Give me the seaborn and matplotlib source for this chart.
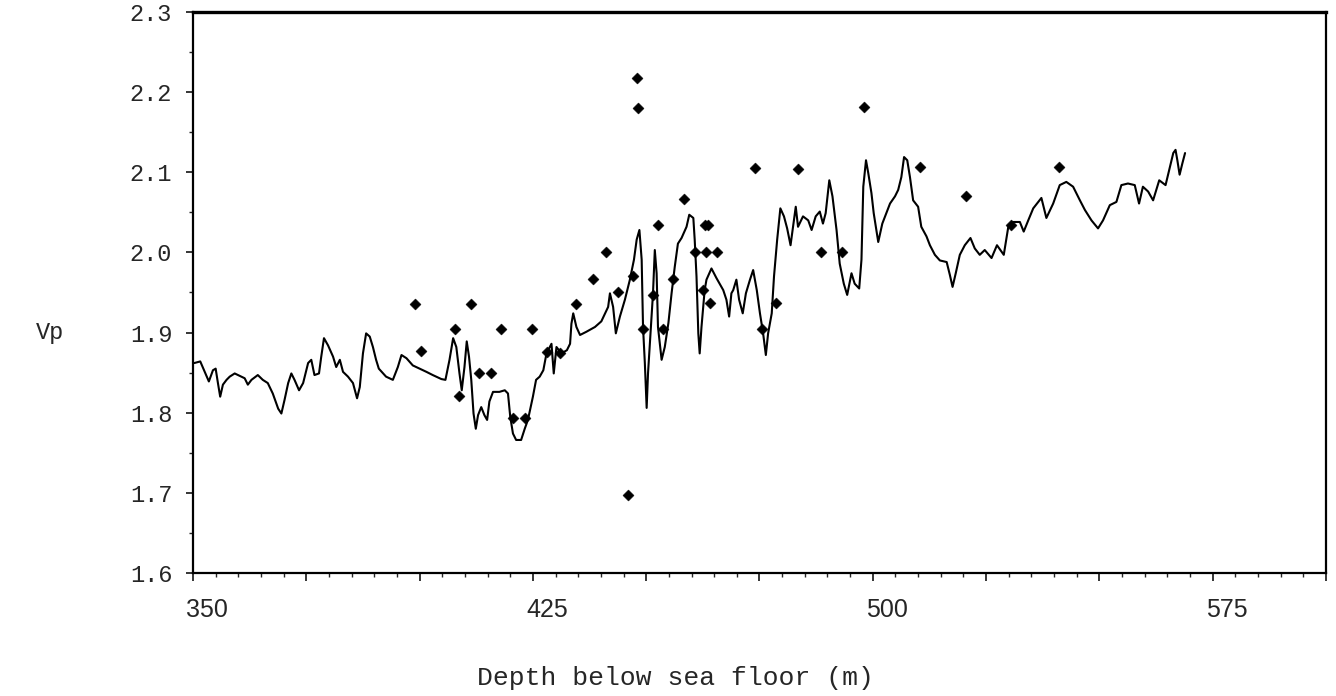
import numpy as np
import pandas as pd
import matplotlib
matplotlib.use("Agg")
import matplotlib.pyplot as plt
import matplotlib.transforms as mtransforms
from matplotlib.ticker import FixedLocator, MultipleLocator, FuncFormatter
import seaborn as sns

# Continuous log: depth below sea floor (m) and P-wave velocity (km/s)
log_depth = [
    350.3, 351.6, 352.6, 353.5, 354.4, 355.0, 355.5, 356.0, 356.6, 357.4,
    358.1, 359.2, 361.4, 362.1, 362.9, 364.3, 365.4, 366.5, 367.6, 368.8,
    369.5, 370.2, 371.0, 371.7, 372.4, 373.4, 374.3, 375.4, 376.1, 376.8,
    377.8, 378.3, 378.9, 379.8, 380.9, 381.6, 382.4, 383.1, 384.2, 385.3,
    386.2, 386.8, 387.5, 388.2, 389.0, 389.7, 390.4, 391.0, 392.6, 394.1,
    395.2, 396.0, 397.1, 398.5, 400.0, 401.5, 402.9, 404.8, 405.7, 406.6,
    407.4, 408.1, 408.8, 409.3, 409.9, 410.4, 410.9, 411.4, 411.9, 412.4,
    412.9, 413.6, 414.3, 414.9, 415.4, 416.2, 417.6, 418.8, 419.5, 420.0,
    420.6, 421.3, 422.4, 423.2, 423.9, 425.0, 425.7, 426.5, 427.3, 428.0,
    429.1, 429.6, 430.2, 431.3, 432.5, 433.2, 433.5, 433.9, 434.6, 435.4,
    436.8, 438.7, 440.1, 441.6, 442.0, 442.7, 443.3, 444.2, 445.3, 446.4,
    447.3, 447.9, 448.5, 449.0, 449.3, 449.7, 450.1, 450.4, 450.95, 451.5,
    451.9, 452.3, 452.6, 453.4, 454.1, 454.9, 455.6, 456.3, 457.0, 457.8,
    458.9, 459.5, 460.4, 460.7, 461.1, 461.5, 461.8, 462.2, 462.9, 463.3,
    464.4, 465.5, 467.0, 467.7, 468.3, 468.8, 469.2, 469.9, 470.5, 471.3,
    472.0, 472.9, 473.6, 474.4, 475.1, 475.8, 476.4, 476.9, 477.7, 478.2,
    478.9, 479.6, 480.4, 481.1, 481.85, 482.4, 483.0, 483.5, 484.6, 485.75,
    486.5, 487.4, 488.3, 489.0, 489.6, 490.4, 491.1, 492.0, 492.7, 493.6,
    494.35, 495.3, 496.0, 497.0, 497.5, 497.9, 498.5, 499.0, 499.7, 500.2,
    501.2, 502.1, 503.8, 504.9, 505.6, 506.3, 506.9, 507.6, 508.2, 508.9,
    510.0, 510.7, 511.85, 512.6, 513.7, 514.8, 516.3, 517.0, 517.6, 518.3,
    519.2, 520.3, 521.55, 522.5, 523.6, 524.7, 526.2, 527.4, 528.9, 529.9,
    531.0, 532.45, 533.3, 534.3, 535.4, 537.2, 538.3, 539.8, 541.25, 542.7,
    544.2, 545.7, 546.8, 548.25, 549.7, 550.8, 552.3, 553.75, 554.85, 556.3,
    557.8, 558.75, 559.6, 560.75, 561.85, 563.2, 564.6, 565.4, 566.3, 566.8,
    567.2, 567.7, 568.3, 568.9,
]
log_vp = [
    1.862, 1.864, 1.851, 1.839, 1.853, 1.855, 1.837, 1.820, 1.835, 1.841,
    1.845, 1.849, 1.843, 1.835, 1.841, 1.847, 1.841, 1.837, 1.824, 1.805,
    1.799, 1.816, 1.837, 1.849, 1.841, 1.828, 1.837, 1.862, 1.866, 1.847,
    1.849, 1.870, 1.893, 1.884, 1.870, 1.857, 1.866, 1.851, 1.845, 1.837,
    1.818, 1.832, 1.874, 1.899, 1.895, 1.882, 1.866, 1.855, 1.845, 1.841,
    1.857, 1.872, 1.868, 1.859, 1.855, 1.851, 1.847, 1.842, 1.841, 1.866,
    1.893, 1.882, 1.849, 1.828, 1.857, 1.889, 1.870, 1.841, 1.799, 1.780,
    1.797, 1.807, 1.797, 1.791, 1.814, 1.826, 1.826, 1.828, 1.824, 1.795,
    1.774, 1.766, 1.766, 1.780, 1.791, 1.820, 1.841, 1.845, 1.853, 1.874,
    1.886, 1.849, 1.882, 1.874, 1.878, 1.886, 1.911, 1.924, 1.907, 1.897,
    1.901, 1.907, 1.914, 1.932, 1.949, 1.932, 1.899, 1.920, 1.941, 1.966,
    1.991, 2.016, 2.028, 1.991, 1.907, 1.862, 1.806, 1.849, 1.899, 1.949,
    2.003, 1.974, 1.907, 1.866, 1.882, 1.912, 1.949, 1.982, 2.011, 2.018,
    2.032, 2.047, 2.043, 2.016, 1.970, 1.899, 1.874, 1.907, 1.953, 1.966,
    1.980, 1.968, 1.953, 1.941, 1.920, 1.949, 1.953, 1.966, 1.941, 1.924,
    1.949, 1.966, 1.978, 1.953, 1.924, 1.899, 1.872, 1.899, 1.924, 1.970,
    2.016, 2.055, 2.045, 2.030, 2.009, 2.032, 2.057, 2.032, 2.045, 2.040,
    2.028, 2.045, 2.051, 2.036, 2.049, 2.090, 2.070, 2.028, 1.986, 1.961,
    1.947, 1.974, 1.961, 1.955, 1.991, 2.082, 2.115, 2.099, 2.074, 2.049,
    2.013, 2.036, 2.061, 2.070, 2.078, 2.094, 2.119, 2.115, 2.094, 2.065,
    2.057, 2.032, 2.020, 2.009, 1.997, 1.990, 1.988, 1.972, 1.957, 1.974,
    1.997, 2.009, 2.018, 2.005, 1.997, 2.003, 1.993, 2.009, 1.997, 2.032,
    2.038, 2.038, 2.026, 2.040, 2.055, 2.068, 2.043, 2.061, 2.084, 2.088,
    2.082, 2.065, 2.053, 2.040, 2.030, 2.040, 2.059, 2.063, 2.084, 2.086,
    2.084, 2.061, 2.082, 2.076, 2.065, 2.090, 2.084, 2.103, 2.124, 2.128,
    2.115, 2.097, 2.111, 2.124,
]

# Discrete sample measurements
sample_depth = [
    398.9, 411.3, 400.2, 407.9, 418.0, 424.8, 413.2, 415.8, 408.8, 420.6,
    423.2, 447.9, 448.2, 458.3, 452.6, 462.9, 463.6, 441.1, 460.7, 463.3,
    465.7, 438.2, 443.8, 447.0, 456.0, 434.6, 451.5, 449.3, 453.7, 428.2,
    431.0, 445.9, 462.6, 464.0, 498.0, 474.0, 483.4, 488.5, 493.1, 478.6,
    475.5, 510.5, 520.5, 541.1, 530.4,
]
sample_vp = [
    1.936, 1.936, 1.877, 1.905, 1.905, 1.905, 1.849, 1.849, 1.821, 1.793,
    1.793, 2.218, 2.180, 2.067, 2.034, 2.034, 2.034, 2.000, 2.001, 2.001,
    2.001, 1.967, 1.951, 1.970, 1.967, 1.936, 1.947, 1.905, 1.905, 1.876,
    1.875, 1.697, 1.953, 1.937, 2.181, 2.105, 2.104, 2.001, 2.001, 1.937,
    1.905, 2.107, 2.070, 2.106, 2.034,
]

x_labelled = [350, 425, 500, 575]

sns.set_theme(style="white")
plt.rcParams["font.family"] = ["Liberation Mono", "DejaVu Sans Mono"]

log_df = pd.DataFrame({"depth": log_depth, "vp": log_vp})
sample_df = pd.DataFrame({"depth": sample_depth, "vp": sample_vp})

fig = plt.figure(figsize=(13.36, 6.96), dpi=100)
ax = fig.add_axes([193 / 1336, 1 - 573 / 696, (1326 - 193) / 1336, (573 - 12) / 696])

sns.lineplot(data=log_df, x="depth", y="vp", ax=ax, color="black",
             linewidth=1.5, sort=False, estimator=None)
sns.scatterplot(data=sample_df, x="depth", y="vp", ax=ax, color="black",
                marker="D", s=32, linewidth=0.3, edgecolor="black", zorder=3)

ax.set_xlim(350, 600)
ax.set_ylim(1.6, 2.3)
ax.set_xlabel("")
ax.set_ylabel("")

# Frame
for name, sp in ax.spines.items():
    sp.set_visible(True)
    sp.set_color("black")
    sp.set_linewidth(1.6)
ax.spines["top"].set_linewidth(2.4)

# X ticks: every 25 m, minor every 5 m, labels every 75 m
ax.xaxis.set_major_locator(FixedLocator(list(range(350, 601, 25))))
ax.xaxis.set_minor_locator(MultipleLocator(5))
ax.xaxis.set_major_formatter(
    FuncFormatter(lambda v, pos: f"{int(round(v))}" if int(round(v)) in x_labelled else ""))
ax.tick_params(axis="x", which="major", direction="out", length=6, width=1.3,
               pad=12, labelsize=18, bottom=True, top=False)
ax.tick_params(axis="x", which="minor", direction="out", length=3, width=1.0,
               bottom=True, top=False)
shift = mtransforms.ScaledTranslation(14 / 100, 0, fig.dpi_scale_trans)
for lab in ax.get_xticklabels():
    lab.set_fontfamily(["Liberation Sans", "DejaVu Sans"])
    lab.set_transform(lab.get_transform() + shift)

# Y ticks: every 0.1, minor every 0.05
ax.yaxis.set_major_locator(MultipleLocator(0.1))
ax.yaxis.set_minor_locator(MultipleLocator(0.05))
ax.yaxis.set_major_formatter(FuncFormatter(lambda v, pos: f"{v:.1f}"))
ax.tick_params(axis="y", which="major", direction="out", length=5, width=1.3,
               pad=10, labelsize=17, left=True, right=False)
ax.tick_params(axis="y", which="minor", direction="out", length=3, width=1.0,
               left=True, right=False)

fig.text(50 / 1336, 1 - 332 / 696, "Vp", ha="center", va="center", fontsize=17)
fig.text(675 / 1336, 1 - 678 / 696, "Depth below sea floor (m)",
         ha="center", va="center", fontsize=19)

fig.savefig("out.png", dpi=100, facecolor="white")
